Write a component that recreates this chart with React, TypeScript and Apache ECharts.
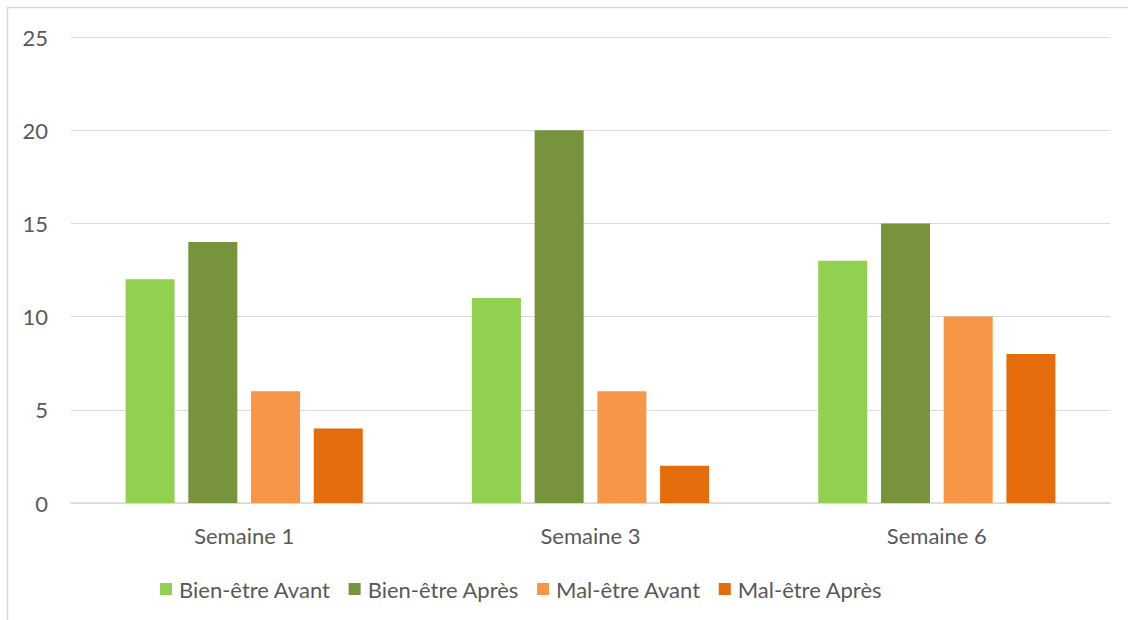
import React, { useEffect, useRef } from "react";
import * as echarts from "echarts";

const categories = ["Semaine 1", "Semaine 3", "Semaine 6"];
const seriesNames = ["Bien-être Avant", "Bien-être Après", "Mal-être Avant", "Mal-être Après"];
const bienEtreAvant = [12, 11, 13];
const bienEtreApres = [14, 20, 15];
const malEtreAvant = [6, 6, 10];
const malEtreApres = [4, 2, 8];
const seriesColors = ["#92d050", "#77933c", "#f79646", "#e46c0a"];

export default function App() {
  const ref = useRef<HTMLDivElement>(null);
  useEffect(() => {
    if (!ref.current) return;
    const chart = echarts.init(ref.current, null, { renderer: "svg" });
    const font = "Lato, 'Open Sans', sans-serif";
    const data = [bienEtreAvant, bienEtreApres, malEtreAvant, malEtreApres];
    chart.setOption({
      animation: false,
      textStyle: { fontFamily: font },
      graphic: [
        {
          type: "rect",
          shape: { x: 7.5, y: 7.5, width: 1130, height: 630 },
          style: { fill: "none", stroke: "#d9d9d9", lineWidth: 1.5 },
          silent: true,
        },
      ],
      grid: { left: 71, right: 18, top: 37, bottom: 117 },
      legend: {
        bottom: 15,
        left: 155,
        itemWidth: 12,
        itemHeight: 12,
        itemGap: 18,
        icon: "rect",
        textStyle: { fontSize: 22, color: "#595959", fontFamily: font, padding: [0, 0, 0, 2] },
        data: seriesNames,
      },
      xAxis: {
        type: "category",
        data: categories,
        axisLine: { lineStyle: { color: "#d9d9d9", width: 1.5 } },
        axisTick: { show: false },
        axisLabel: { fontSize: 22, color: "#595959", margin: 21, fontFamily: font },
      },
      yAxis: {
        type: "value",
        min: 0,
        max: 25,
        interval: 5,
        axisLine: { show: false },
        axisTick: { show: false },
        splitLine: { lineStyle: { color: "#d9d9d9", width: 1 } },
        axisLabel: { fontSize: 22, color: "#595959", margin: 23, fontFamily: font },
      },
      series: seriesNames.map((name, i) => ({
        name,
        type: "bar",
        data: data[i],
        barWidth: 49,
        barGap: "28%",
        itemStyle: { color: seriesColors[i] },
      })),
    });
    return () => chart.dispose();
  }, []);
  return (
    <div
      ref={ref}
      style={{ position: "fixed", left: 0, top: 0, width: 1128, height: 620, background: "#fff" }}
    />
  );
}
